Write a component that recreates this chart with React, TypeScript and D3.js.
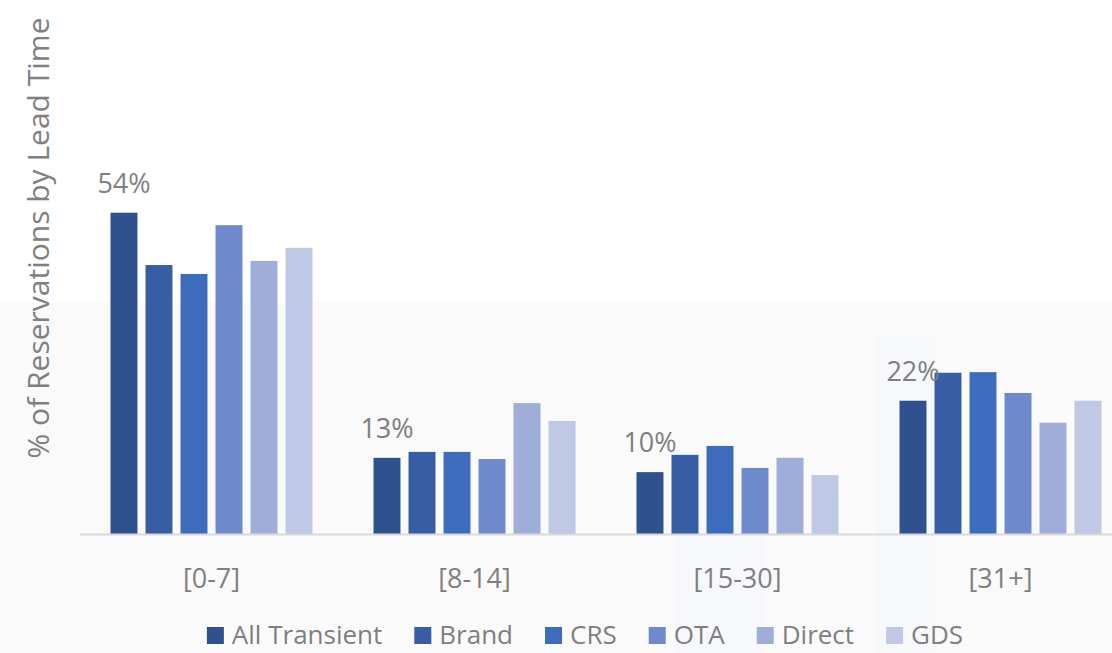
import React, { useEffect, useRef } from 'react';
import * as d3 from 'd3';

// lead time buckets and channel series (% of reservations)
const categories = ['[0-7]', '[8-14]', '[15-30]', '[31+]'];
const seriesNames = ['All Transient', 'Brand', 'CRS', 'OTA', 'Direct', 'GDS'];
const allTransient = [54.0, 12.8, 10.4, 22.4];
const brand = [45.2, 13.8, 13.3, 27.1];
const crs = [43.7, 13.8, 14.8, 27.2];
const ota = [51.9, 12.6, 11.1, 23.7];
const direct = [45.9, 22.0, 12.8, 18.7];
const gds = [48.1, 19.0, 9.9, 22.4];
const seriesValues = [allTransient, brand, crs, ota, direct, gds];
const colors = ['#2F528F', '#375DA5', '#3E6CBC', '#6E8ACC', '#9EAED9', '#BFC9E5'];

const W = 1112;
const H = 653;
const FONT = '"Open Sans", sans-serif';

const App: React.FC = () => {
  const svgRef = useRef<SVGSVGElement | null>(null);

  useEffect(() => {
    const svg = d3.select(svgRef.current);
    svg.selectAll('*').remove();

    // faint photo-like background band
    svg.append('rect').attr('x', 0).attr('y', 0).attr('width', W).attr('height', H).attr('fill', '#ffffff');
    svg.append('rect').attr('x', 0).attr('y', 303).attr('width', W).attr('height', H - 303).attr('fill', '#fafafb');
    svg.append('rect').attr('x', 875).attr('y', 335).attr('width', 60).attr('height', 318).attr('fill', '#f6f8fb');
    svg.append('rect').attr('x', 675).attr('y', 520).attr('width', 90).attr('height', 133).attr('fill', '#f6f8fb');

    const baseline = 534;
    const x0 = d3.scaleBand<string>()
      .domain(categories)
      .range([80, 1132])
      .paddingInner(0.232)
      .paddingOuter(0.116);

    const x1 = d3.scaleBand<string>()
      .domain(seriesNames)
      .range([0, x0.bandwidth()])
      .paddingInner(0.23)
      .paddingOuter(0);

    const y = d3.scaleLinear().domain([0, 60]).range([baseline, baseline - 357]);

    const groups = svg.append('g')
      .selectAll('g')
      .data(categories)
      .join('g')
      .attr('transform', (c) => `translate(${x0(c)},0)`);

    groups.selectAll('rect')
      .data((c, ci) => seriesNames.map((s, si) => ({ s, si, v: seriesValues[si][ci] })))
      .join('rect')
      .attr('x', (d) => x1(d.s) as number)
      .attr('y', (d) => y(d.v))
      .attr('width', x1.bandwidth())
      .attr('height', (d) => baseline - y(d.v))
      .attr('fill', (d) => colors[d.si]);

    // data labels on All Transient
    groups.append('text')
      .attr('x', (x1('All Transient') as number) + x1.bandwidth() / 2)
      .attr('y', (c, ci) => y(allTransient[ci]) - 20)
      .attr('text-anchor', 'middle')
      .attr('font-family', FONT)
      .attr('font-size', 27)
      .attr('fill', '#7f7f7f')
      .text((c, ci) => `${Math.round(allTransient[ci])}%`);

    // x axis line
    svg.append('line')
      .attr('x1', 80).attr('x2', W)
      .attr('y1', baseline + 0.5).attr('y2', baseline + 0.5)
      .attr('stroke', '#d9d9d9')
      .attr('stroke-width', 2);

    // category labels
    svg.append('g')
      .selectAll('text')
      .data(categories)
      .join('text')
      .attr('x', (c) => (x0(c) as number) + x0.bandwidth() / 2)
      .attr('y', 588)
      .attr('text-anchor', 'middle')
      .attr('font-family', FONT)
      .attr('font-size', 27)
      .attr('fill', '#7f7f7f')
      .text((c) => c);

    // y axis title
    svg.append('text')
      .attr('transform', 'translate(49,238) rotate(-90)')
      .attr('text-anchor', 'middle')
      .attr('font-family', FONT)
      .attr('font-size', 30)
      .attr('fill', '#808080')
      .text('% of Reservations by Lead Time');

    // legend
    const legend = svg.append('g');
    let cx = 0;
    seriesNames.forEach((name, i) => {
      const item = legend.append('g').attr('transform', `translate(${cx},0)`);
      item.append('rect')
        .attr('x', 0).attr('y', 627)
        .attr('width', 17).attr('height', 17)
        .attr('fill', colors[i]);
      const t = item.append('text')
        .attr('x', 25).attr('y', 644)
        .attr('font-family', FONT)
        .attr('font-size', 26)
        .attr('fill', '#7f7f7f')
        .text(name);
      const len = (t.node() as SVGTextElement).getComputedTextLength();
      cx += 25 + len + 32;
    });
    const total = cx - 32;
    legend.attr('transform', `translate(${585 - total / 2},0)`);
  }, []);

  return (
    <svg
      ref={svgRef}
      width={W}
      height={H}
      style={{ position: 'fixed', top: 0, left: 0, display: 'block' }}
    />
  );
};

export default App;
